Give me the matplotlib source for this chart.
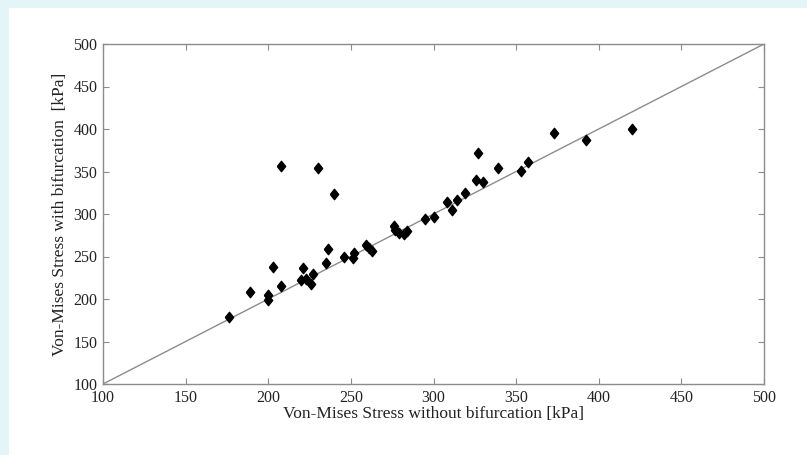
import matplotlib
matplotlib.use("Agg")
import matplotlib.pyplot as plt
from matplotlib.patches import Rectangle

# Stress values [kPa]
stress_without = [176, 189, 200, 200, 203, 208, 208, 220, 221, 223, 226, 227, 230,
                  235, 236, 240, 246, 251, 252, 259, 261, 263, 276, 277, 279, 282,
                  284, 295, 300, 308, 311, 314, 319, 326, 327, 330, 339, 353, 357,
                  373, 392, 420]
stress_with = [179, 208, 199, 205, 238, 215, 356, 222, 237, 224, 218, 230, 354,
               242, 259, 324, 250, 248, 254, 264, 260, 256, 286, 281, 278, 277,
               280, 294, 297, 314, 305, 317, 325, 340, 372, 338, 354, 351, 361,
               395, 387, 400]
axis_limits = [100, 500]
ticks = [100, 150, 200, 250, 300, 350, 400, 450, 500]

plt.rcParams['font.family'] = ['Liberation Serif', 'DejaVu Serif']

fig = plt.figure(figsize=(8.07, 4.55), dpi=100)
fig.patch.set_facecolor('#e4f5f7')
# white panel inside the light blue frame, kept behind the axes
panel = Rectangle((9 / 807, 0), 1, 1 - 8 / 455, transform=fig.transFigure,
                  facecolor='white', edgecolor='none', zorder=-10)
fig.add_artist(panel)

ax = fig.add_axes([103 / 807, 1 - 384 / 455, 661 / 807, 340 / 455])
ax.set_facecolor('white')

# identity line
ax.plot(axis_limits, axis_limits, color='#8c8c8c', lw=1.0, zorder=2)

diamond = [(-0.8, 0), (0, 1), (0.8, 0), (0, -1), (-0.8, 0)]
ax.plot(stress_without, stress_with, linestyle='none', marker=diamond,
        markersize=7.5, color='black', zorder=3)

ax.set_xlim(axis_limits)
ax.set_ylim(axis_limits)
ax.set_xticks(ticks)
ax.set_yticks(ticks)
for s in ax.spines.values():
    s.set_color('#8c8c8c')
    s.set_linewidth(1.0)
ax.tick_params(direction='in', top=True, right=True, length=4, width=0.8,
               color='#8c8c8c', labelsize=11.5, labelcolor='#222222', pad=4)

ax.set_xlabel('Von-Mises Stress without bifurcation [kPa]', fontsize=12.5,
              color='#222222', labelpad=0)
ax.set_ylabel('Von-Mises Stress with bifurcation  [kPa]', fontsize=12.5,
              color='#222222', labelpad=4)

fig.savefig('out.png', dpi=100, facecolor=fig.get_facecolor())
